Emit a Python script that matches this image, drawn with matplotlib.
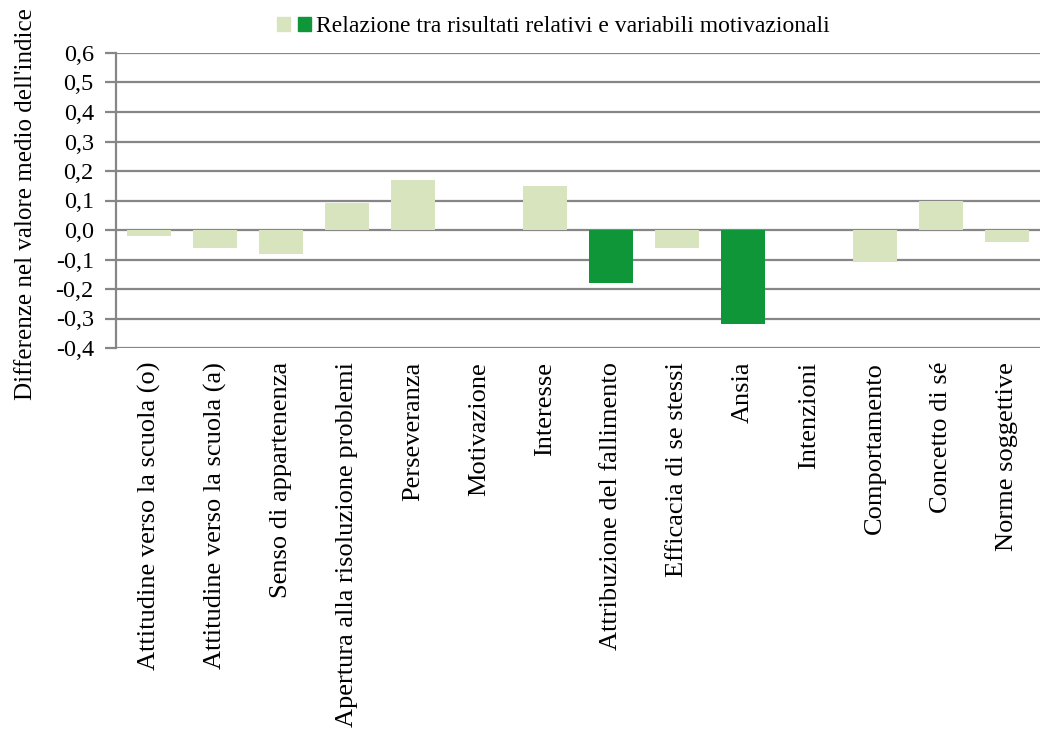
import matplotlib
matplotlib.use("Agg")
import matplotlib.pyplot as plt
from matplotlib.patches import Patch

plt.rcParams['font.family'] = ['Liberation Serif', 'DejaVu Serif']

categorie = [
    "Attitudine verso la scuola (o)",
    "Attitudine verso la scuola (a)",
    "Senso di appartenenza",
    "Apertura alla risoluzione problemi",
    "Perseveranza",
    "Motivazione",
    "Interesse",
    "Attribuzione del fallimento",
    "Efficacia di se stessi",
    "Ansia",
    "Intenzioni",
    "Comportamento",
    "Concetto di sé",
    "Norme soggettive",
]
valori = [-0.02, -0.06, -0.08, 0.09, 0.17, 0.0, 0.15, -0.18, -0.06, -0.32, 0.0, -0.11, 0.10, -0.04]
# significativi: evidenziati in verde scuro
significativo = [False, False, False, False, False, False, False, True, False, True, False, False, False, False]
y_ticks = [-0.4, -0.3, -0.2, -0.1, 0.0, 0.1, 0.2, 0.3, 0.4, 0.5, 0.6]

CHIARO = "#d7e4bd"
SCURO = "#0e9638"
GRIGIO = "#868686"

fig = plt.figure(figsize=(10.41, 7.31), dpi=100)
ax = fig.add_axes([116 / 1041, 1 - 348 / 731, 924 / 1041, 295 / 731])

colori = [SCURO if s else CHIARO for s in significativo]
x = range(len(categorie))
ax.bar(x, valori, width=0.68, color=colori, zorder=3)

ax.set_xlim(-0.5, len(categorie) - 0.5)
ax.set_ylim(-0.4, 0.6)
ax.set_yticks(y_ticks)
ax.set_yticklabels([f"{v:.1f}".replace(".", ",") for v in y_ticks], fontsize=17.5)
ax.yaxis.grid(True, color=GRIGIO, linewidth=1.6, zorder=0)
ax.set_axisbelow(True)

ax.set_xticks(list(x))
ax.set_xticklabels(categorie, rotation=90, fontsize=19, va="top")
ax.tick_params(axis="x", length=0, pad=10)
ax.tick_params(axis="y", length=8, width=1.6, color=GRIGIO, pad=8)

for lato in ["top", "right", "bottom"]:
    ax.spines[lato].set_visible(False)
ax.spines["left"].set_color(GRIGIO)
ax.spines["left"].set_linewidth(1.6)

fig.text(26 / 1041, 1 - 204 / 731, "Differenze nel valore medio dell'indice",
         rotation=90, ha="center", va="center", fontsize=18)

maniglie = [Patch(color=CHIARO), Patch(color=SCURO)]
fig.legend(maniglie, ["", "Relazione tra risultati relativi e variabili motivazionali"],
           loc="center", bbox_to_anchor=(553 / 1041, 1 - 27 / 731), ncol=2, frameon=False,
           fontsize=17, handlelength=0.55, handleheight=0.55, handletextpad=0.2,
           columnspacing=0.15)

fig.savefig("out.png", dpi=100)
